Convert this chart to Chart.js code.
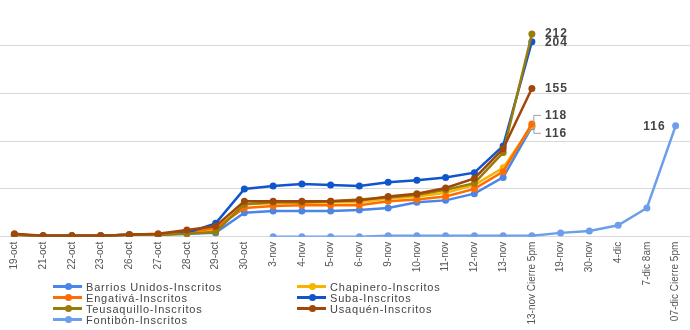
<!DOCTYPE html>
<html>
<head>
<meta charset="utf-8">
<script src="https://cdn.jsdelivr.net/npm/chart.js@4/dist/chart.umd.min.js"></script>
<style>
  body { margin: 0; background: #fff; }
  #wrap { position: relative; width: 690px; height: 330px; }
  #legend {
    position: absolute; left: 53px; top: 281px;
    display: grid; grid-template-columns: 244px 200px; grid-auto-rows: 11px;
    font: 11px 'Liberation Sans', Arial, sans-serif; color: #444; letter-spacing: 0.8px;
  }
  .item { display: flex; align-items: center; white-space: nowrap; }
  .swatch { position: relative; width: 29px; height: 3px; margin-right: 4px; }
  .swatch i { position: absolute; left: 12px; top: -2px; width: 7px; height: 7px; border-radius: 50%; }
</style>
</head>
<body>
<div id="wrap">
  <canvas id="chart" width="690" height="330"></canvas>
  <div id="legend"></div>
</div>
<script>
const labels = ['19-oct', '21-oct', '22-oct', '23-oct', '26-oct', '27-oct', '28-oct', '29-oct', '30-oct',
  '3-nov', '4-nov', '5-nov', '6-nov', '9-nov', '10-nov', '11-nov', '12-nov', '13-nov', '13-nov Cierre 5pm',
  '19-nov', '30-nov', '4-dic', '7-dic 8am', '07-dic Cierre 5pm']

const barriosUnidos = [2, 1, 1, 1, 2, 2, 3, 4, 25, 27, 27, 27, 28, 30, 36, 38, 45, 62, 115]
const chapinero = [2, 1, 1, 1, 2, 2, 4, 7, 34, 35, 35, 36, 36, 40, 42, 46, 54, 72, 116]
const engativa = [2, 1, 1, 1, 2, 2, 5, 9, 30, 32, 33, 33, 33, 37, 39, 42, 50, 68, 118]
const suba = [2, 1, 1, 1, 2, 2, 4, 14, 50, 53, 55, 54, 53, 57, 59, 62, 67, 95, 204]
const teusaquillo = [2, 1, 1, 1, 2, 2, 3, 5, 34, 36, 36, 37, 39, 41, 44, 49, 56, 88, 212]
const usaquen = [3, 1, 1, 1, 2, 3, 7, 11, 37, 37, 37, 37, 38, 42, 45, 51, 61, 92, 155]
const fontibon = [null, null, null, null, null, null, null, null, null,
  0, 0, 0, 0, 1, 1, 1, 1, 1, 1, 4, 6, 12, 30, 116]

const series = [
  { name: 'Barrios Unidos-Inscritos', data: barriosUnidos, color: '#4a86e8' },
  { name: 'Chapinero-Inscritos', data: chapinero, color: '#f6b400' },
  { name: 'Engativá-Inscritos', data: engativa, color: '#ff6d01' },
  { name: 'Suba-Inscritos', data: suba, color: '#1155cc' },
  { name: 'Teusaquillo-Inscritos', data: teusaquillo, color: '#9a7d08' },
  { name: 'Usaquén-Inscritos', data: usaquen, color: '#a0470a' },
  { name: 'Fontibón-Inscritos', data: fontibon, color: '#6d9eeb' }
]

// which series get a value label at their last point, and how it sits
const endLabels = [
  { index: 4, dy: -0.5 },
  { index: 3, dy: 1 },
  { index: 5, dy: 0.5 },
  { index: 2, dy: -8.5, bracket: true },
  { index: 1, dy: 7.5, bracket: true },
  { index: 6, dy: 1, left: true }
]

const endLabelPlugin = {
  id: 'endLabels',
  afterDatasetsDraw(chart) {
    const ctx = chart.ctx
    ctx.save()
    ctx.font = 'bold 12px "Liberation Sans", Arial, sans-serif'
    ctx.fillStyle = '#444'
    ctx.textBaseline = 'middle'
    ctx.letterSpacing = '1px'
    endLabels.forEach(({ index, dy, bracket, left }) => {
      const data = series[index].data
      const last = data.length - 1
      const pt = chart.getDatasetMeta(index).data[last]
      const y = pt.y + dy
      if (bracket) {
        ctx.strokeStyle = '#9e9e9e'
        ctx.lineWidth = 1
        ctx.beginPath()
        ctx.moveTo(pt.x + 9, y)
        ctx.lineTo(pt.x + 2, y)
        ctx.lineTo(pt.x + 2, pt.y)
        ctx.stroke()
      }
      if (left) {
        ctx.textAlign = 'right'
        ctx.fillText(String(data[last]), pt.x - 10, y)
      } else {
        ctx.textAlign = 'left'
        ctx.fillText(String(data[last]), pt.x + 13, y)
      }
    })
    ctx.restore()
  }
}

const datasets = series.map((s, i) => ({
  label: s.name,
  data: s.data,
  borderColor: s.color,
  backgroundColor: s.color,
  pointBackgroundColor: s.color,
  pointBorderWidth: 0,
  pointRadius: 3.5,
  borderWidth: 2.5,
  tension: 0,
  spanGaps: false,
  order: series.length - i
}))

new Chart(document.getElementById('chart'), {
  type: 'line',
  data: { labels, datasets },
  options: {
    responsive: false,
    animation: false,
    layout: { padding: { left: 0, top: 0, bottom: 0, right: -4 }, autoPadding: false },
    plugins: { legend: { display: false }, tooltip: { enabled: false } },
    scales: {
      x: {
        offset: true,
        grid: { display: false, drawTicks: false },
        border: { display: false },
        ticks: {
          autoSkip: false,
          minRotation: 90,
          maxRotation: 90,
          padding: 5,
          color: '#555',
          font: { family: '"Liberation Sans", Arial, sans-serif', size: 10 }
        },
        afterFit(scale) {
          scale.height = 93.3
          scale.paddingLeft = 0
          scale.paddingRight = 0
        }
      },
      y: {
        min: 0,
        max: 247.6,
        grid: { color: '#d9d9d9', lineWidth: 1, drawTicks: false },
        border: { display: false },
        ticks: { display: false },
        afterBuildTicks(scale) {
          scale.ticks = [0, 50, 100, 150, 200].map(v => ({ value: v }))
        },
        afterFit(scale) { scale.width = 0 }
      }
    }
  },
  plugins: [endLabelPlugin]
})

document.getElementById('legend').innerHTML = series
  .map(s => `
    <div class="item">
      <span class="swatch" style="background:${s.color}"><i style="background:${s.color}"></i></span>${s.name}
    </div>`)
  .join('')
</script>
</body>
</html>
